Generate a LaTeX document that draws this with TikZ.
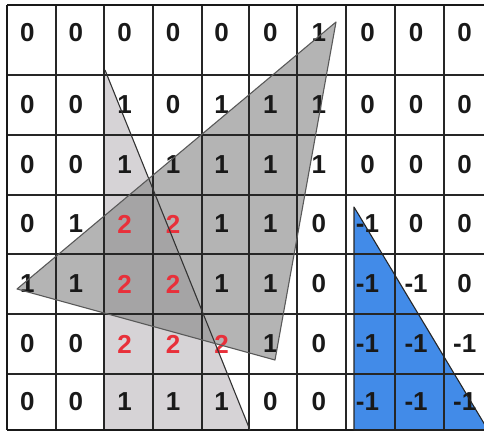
\documentclass[tikz,border=0pt]{standalone}
\usepackage{fontspec}
\setmainfont{Liberation Sans}
\definecolor{redtwo}{RGB}{232,48,58}
\definecolor{bluetri}{RGB}{66,139,232}
\definecolor{lightgr}{RGB}{214,211,214}
\definecolor{darkgr}{RGB}{137,137,137}
\begin{document}
\begin{tikzpicture}[x=1pt,y=-1pt,
  gridline/.style={line width=1.6pt, draw=black!85},
  borderline/.style={line width=2.6pt, draw=black!90},
  num/.style={font=\fontsize{26}{26}\selectfont\bfseries, text=black!90, inner sep=0pt, anchor=center},
  trioutline/.style={line width=1.1pt, draw=black!80, line join=round}]
\useasboundingbox (0,0) rectangle (484,434);
\coordinate (a1) at (336,22);
\coordinate (a2) at (17,289);
\coordinate (a3) at (275,360);
\coordinate (b1) at (105,70);
\coordinate (b2) at (105,430);
\coordinate (b3) at (250,430);
\coordinate (c1) at (354,207);
\coordinate (c2) at (354,430);
\coordinate (c3) at (488,430);
\begin{scope}
\clip (0,0) rectangle (484,434);
% fills
\fill[lightgr] (b1) -- (b2) -- (b3) -- cycle;
\fill[darkgr, opacity=0.63] (a1) -- (a2) -- (a3) -- cycle;
\fill[bluetri] (c1) -- (c2) -- (c3) -- cycle;
% grid
\foreach \x in {56,104,153,202,249,297,346,395,444}
  \draw[gridline] (\x,5) -- (\x,430);
\foreach \y in {75,135,195,254,314,374}
  \draw[gridline] (7,\y) -- (484,\y);
\draw[borderline] (7,5) -- (490,5);
\draw[borderline] (7,5) -- (7,430);
\draw[borderline] (7,430) -- (490,430);
% numbers
\foreach \r/\yy/\vals in {
  1/33/{0,0,0,0,0,0,1,0,0,0},
  2/105/{0,0,1,0,1,1,1,0,0,0},
  3/165/{0,0,1,1,1,1,1,0,0,0},
  4/224/{0,1,2,2,1,1,0,-1,0,0},
  5/284/{1,1,2,2,1,1,0,-1,-1,0},
  6/344/{0,0,2,2,2,1,0,-1,-1,-1},
  7/402/{0,0,1,1,1,0,0,-1,-1,-1}} {
  \foreach \v [count=\c] in \vals {
    \node[num] (n\r-\c) at ({27.3+48.6*(\c-1)},\yy) {\ifnum\v=2 \color{redtwo}\fi\v};
  }
}
% outlines
\draw[trioutline] (b1) -- (b3);
\draw[trioutline, draw=black!65] (a1) -- (a2) -- (a3) -- cycle;
\draw[trioutline, draw=black!85] (c1) -- (c2) -- (c3) -- cycle;
\end{scope}
\end{tikzpicture}
\end{document}
